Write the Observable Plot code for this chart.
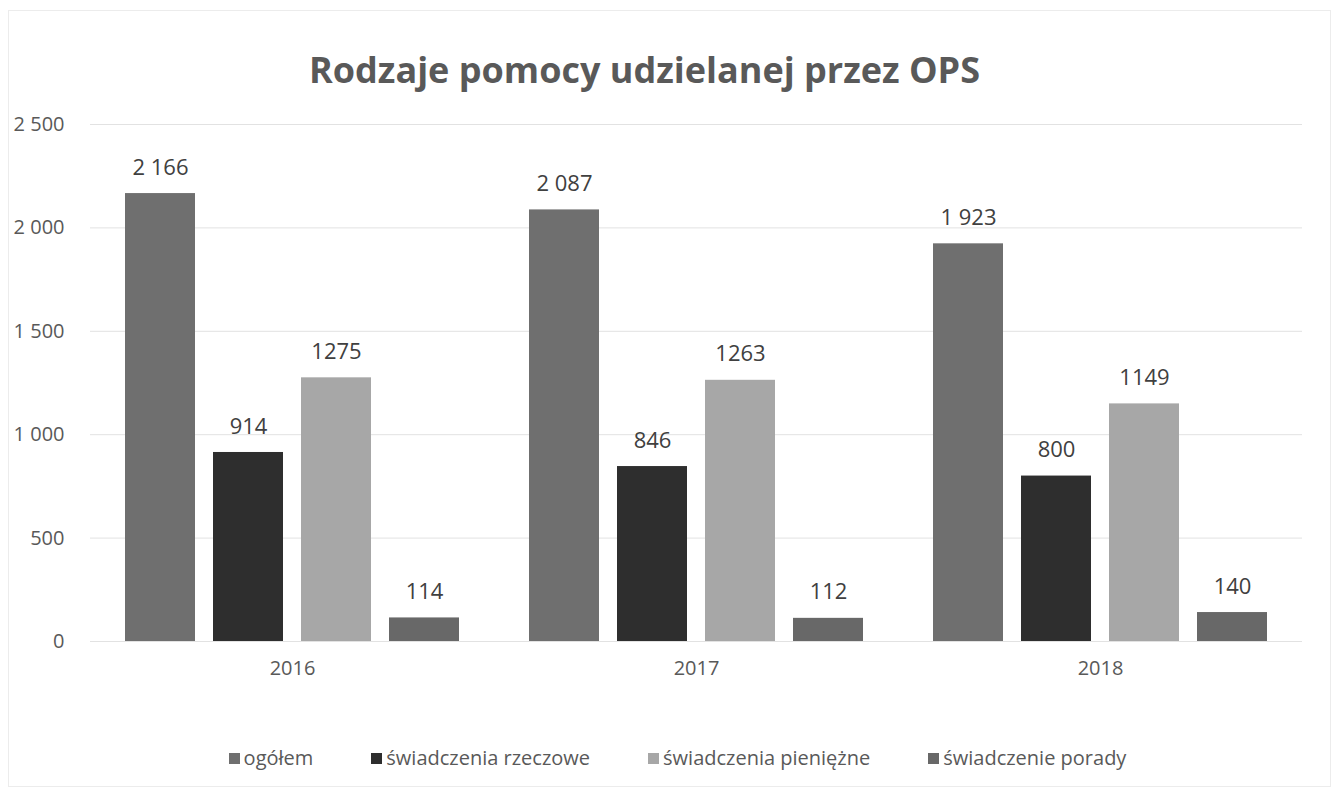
<!DOCTYPE html>
<html>
<head>
<meta charset="utf-8">
<script src="https://cdn.jsdelivr.net/npm/d3@7"></script>
<script src="https://cdn.jsdelivr.net/npm/@observablehq/plot@0.6"></script>
<style>
  html, body { margin: 0; padding: 0; background: #fff; }
  #frame { position: relative; width: 1339px; height: 791px; box-sizing: border-box; font-family: "Open Sans", sans-serif; color: #595959; }
  #border { position: absolute; left: 8px; top: 10px; right: 8px; bottom: 4px; border: 1px solid #ececec; pointer-events: none; }
  #title { position: absolute; left: 0; top: 40px; width: 1289px; text-align: center; font-size: 36px; font-weight: 700; color: #595959; line-height: 60px; }
  #chart { position: absolute; left: 0; top: 100px; }
  #legend { position: absolute; left: 0; top: 744px; width: 1355px; display: flex; justify-content: center; gap: 58px; font-size: 20px; color: #595959; line-height: 28px; }
  .item { display: flex; align-items: center; gap: 4px; }
  .sw { width: 11px; height: 11px; display: inline-block; }
</style>
</head>
<body>
<div id="frame">
  <div id="border"></div>
  <div id="title">Rodzaje pomocy udzielanej przez OPS</div>
  <div id="chart"></div>
  <div id="legend"></div>
</div>
<script>
const years = ["2016", "2017", "2018"];
const seriesNames = ["ogółem", "świadczenia rzeczowe", "świadczenia pieniężne", "świadczenie porady"];
const ogolem = [2166, 2087, 1923];
const rzeczowe = [914, 846, 800];
const pieniezne = [1275, 1263, 1149];
const porady = [114, 112, 140];
const seriesColors = ["#6f6f6f", "#2e2e2e", "#a7a7a7", "#686868"];
const yTicks = [0, 500, 1000, 1500, 2000, 2500];

const seriesValues = [ogolem, rzeczowe, pieniezne, porady];
const data = [];
years.forEach((yr, i) => {
  seriesNames.forEach((s, j) => {
    data.push({year: yr, series: s, value: seriesValues[j][i]});
  });
});

const spaceFmt = d3.formatLocale({decimal: ",", thousands: " ", grouping: [3], currency: ["", " zł"]}).format(",d");
const labelFmt = d => d.series === "ogółem" ? spaceFmt(d.value) : String(d.value);

const plot = Plot.plot({
  width: 1339,
  height: 600,
  marginLeft: 89,
  marginRight: 37,
  marginTop: 24,
  marginBottom: 59,
  style: {fontFamily: "Open Sans, sans-serif", fontSize: "20px", color: "#595959", background: "transparent"},
  fx: {domain: years, padding: 0, label: null, axis: "bottom", tickSize: 0, tickPadding: 19},
  x: {domain: seriesNames, axis: null, paddingInner: 0.2, paddingOuter: 0.39},
  y: {domain: [0, 2500], ticks: yTicks, label: null, tickSize: 0, tickPadding: 26, tickFormat: spaceFmt},
  color: {domain: seriesNames, range: seriesColors},
  marks: [
    Plot.gridY(yTicks, {stroke: "#e2e2e2", strokeOpacity: 1, strokeWidth: 1}),
    Plot.barY(data, {fx: "year", x: "series", y: "value", fill: "series"}),
    Plot.text(data, {fx: "year", x: "series", y: "value", text: labelFmt, dy: -26, fontSize: 22, fill: "#404040"}),
  ]
});
plot.querySelectorAll("[aria-label='y-axis tick label'] text, [aria-label='fx-axis tick label'] text").forEach(t => t.setAttribute("fill", "#595959"));
document.getElementById("chart").appendChild(plot);

const legend = document.getElementById("legend");
seriesNames.forEach((s, i) => {
  const it = document.createElement("div");
  it.className = "item";
  const sw = document.createElement("span");
  sw.className = "sw";
  sw.style.background = seriesColors[i];
  const lb = document.createElement("span");
  lb.textContent = s;
  it.appendChild(sw);
  it.appendChild(lb);
  legend.appendChild(it);
});
</script>
</body>
</html>
